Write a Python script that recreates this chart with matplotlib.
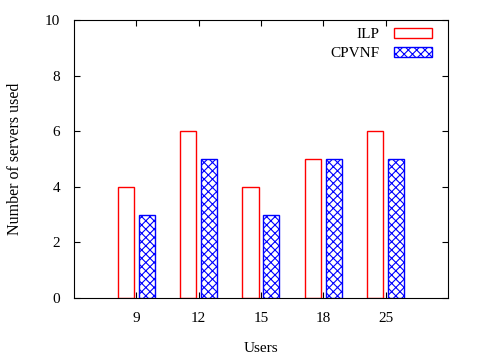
import numpy as np
import matplotlib.pyplot as plt

plt.rcParams['font.family'] = ['Liberation Serif', 'DejaVu Serif']
plt.rcParams['hatch.linewidth'] = 0.8

users = ['9', '12', '15', '18', '25']
ilp = [4, 6, 4, 5, 6]
cpvnf = [3, 5, 3, 5, 5]

x = np.arange(1, len(users) + 1)
w = 0.26

fig = plt.figure(figsize=(4.8, 3.6), dpi=100)
ax = fig.add_axes([74/480, 1 - 298/360, 374/480, 278/360])

ax.bar(x - 0.17, ilp, w, facecolor='white', edgecolor='red', linewidth=1, label='ILP')
ax.bar(x + 0.165, cpvnf, w, facecolor='white', edgecolor='blue', hatch='xxxx',
       linewidth=1, label='CPVNF')

ax.set_xlim(0, 6)
ax.set_ylim(0, 10)
ax.set_xticks(x)
ax.set_xticklabels(users)
ax.set_yticks(range(0, 11, 2))
ax.tick_params(direction='in', top=True, right=True, length=4, width=0.8,
               labelsize=11, pad=10)
for s in ax.spines.values():
    s.set_linewidth(0.8)

ax.set_xlabel('Users', fontsize=11, labelpad=12)
ax.set_ylabel('Number of servers used', fontsize=11.5, labelpad=16)

ax.legend(loc='upper right', frameon=False, markerfirst=False, fontsize=11,
          handlelength=2.5, handleheight=0.65, handletextpad=0.9,
          labelspacing=0.35, borderaxespad=0.3, bbox_to_anchor=(0.985, 1.01))

fig.savefig('out.png', dpi=100)
